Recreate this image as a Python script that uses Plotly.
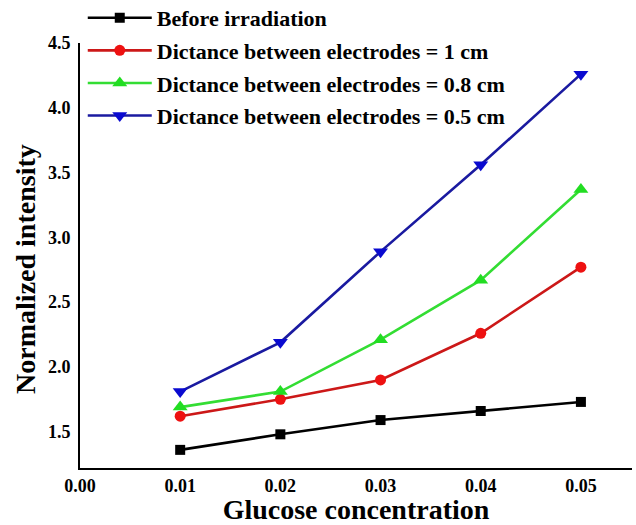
import plotly.graph_objects as go

# Glucose concentration (x) and normalized intensity for each condition
glucose = [0.01, 0.02, 0.03, 0.04, 0.05]
before_irradiation = [1.36, 1.48, 1.59, 1.66, 1.73]
dist_1cm = [1.62, 1.75, 1.90, 2.26, 2.77]
dist_08cm = [1.69, 1.81, 2.21, 2.67, 3.37]
dist_05cm = [1.81, 2.19, 2.89, 3.56, 4.26]

x_ticks = [0.00, 0.01, 0.02, 0.03, 0.04, 0.05]
y_ticks = [1.5, 2.0, 2.5, 3.0, 3.5, 4.0, 4.5]

series = [
    ("Before irradiation", before_irradiation, "#000000", "#000000", "square", 10),
    ("Dictance between electrodes = 1 cm", dist_1cm, "#cc1818", "#ee1111", "circle", 11),
    ("Dictance between electrodes = 0.8 cm", dist_08cm, "#33dd33", "#22dd22", "triangle-up", 13),
    ("Dictance between electrodes = 0.5 cm", dist_05cm, "#1a1aa0", "#0a0ad0", "triangle-down", 13),
]

fig = go.Figure()
for i, (name, vals, lc, mc, sym, ms) in enumerate(series):
    fig.add_trace(go.Scatter(
        x=glucose, y=vals, mode="lines+markers", name=name,
        legendgroup=str(i),
        line=dict(color=lc, width=2.6),
        marker=dict(symbol=sym, size=ms, color=mc),
    ))

serif = "Liberation Serif"
fig.update_layout(
    width=636, height=525,
    margin=dict(l=80, r=4, t=0, b=57, autoexpand=False),
    paper_bgcolor="white", plot_bgcolor="white",
    font=dict(family=serif, color="black"),
    showlegend=True,
    legend=dict(
        x=0.005, y=1.0065, xanchor="left", yanchor="top",
        bgcolor="rgba(0,0,0,0)",
        font=dict(family=serif, size=22, color="black", weight="bold"),
        tracegroupgap=1, itemwidth=64,
    ),
    xaxis=dict(
        range=[0, 0.0551], tickvals=x_ticks, ticktext=[f"{v:.2f}" for v in x_ticks],
        showgrid=False, zeroline=False, showline=True, linecolor="black", linewidth=2,
        ticks="", tickfont=dict(family=serif, size=18, color="black", weight="bold"),
        title=dict(text="Glucose concentration", standoff=8,
                   font=dict(family=serif, size=28, color="black", weight="bold")),
    ),
    yaxis=dict(
        domain=[0, 0.908],
        range=[1.22, 4.5], tickvals=y_ticks, ticktext=[f"{v:.1f}" for v in y_ticks],
        showgrid=False, zeroline=False, showline=True, linecolor="black", linewidth=2,
        ticks="", ticklabelstandoff=4,
        tickfont=dict(family=serif, size=18, color="black", weight="bold"),
    ),
    annotations=[dict(
        text="Normalized intensity", textangle=-90,
        xref="paper", yref="paper", x=-0.1, y=0.425,
        xanchor="center", yanchor="middle", showarrow=False,
        font=dict(family=serif, size=28, color="black", weight="bold"),
    )],
)

fig.write_html("out.html")
